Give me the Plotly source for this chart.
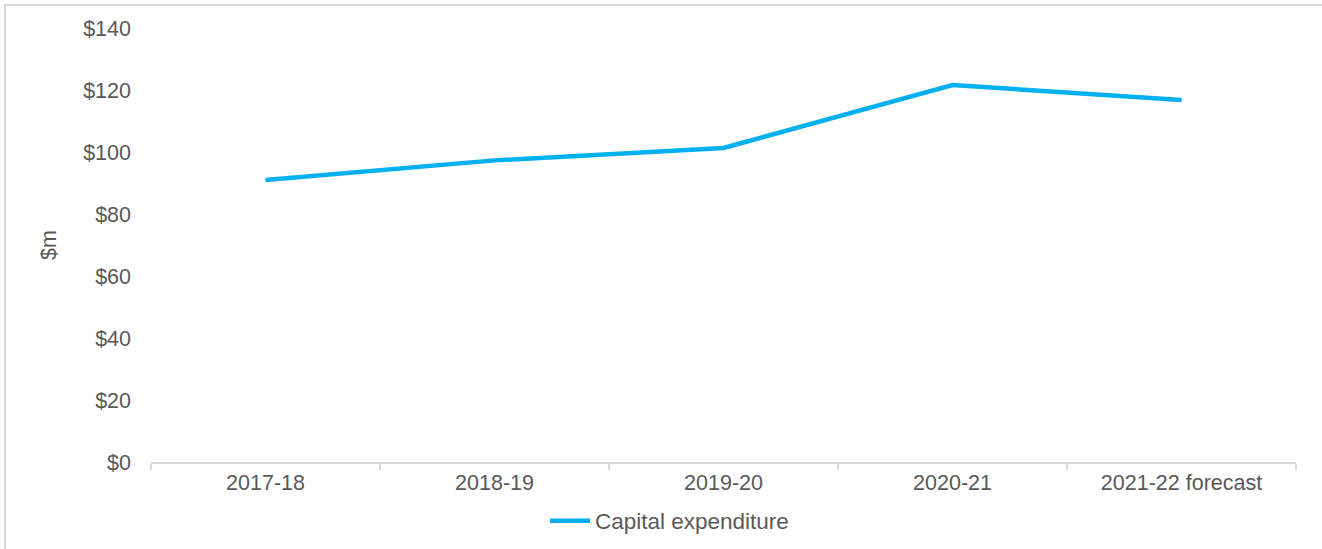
import plotly.graph_objects as go

# Capital expenditure by financial year ($m)
years = ["2017-18", "2018-19", "2019-20", "2020-21", "2021-22 forecast"]
capex = [91.0, 97.3, 101.3, 121.6, 116.8]
y_ticks = [0, 20, 40, 60, 80, 100, 120, 140]
y_tick_labels = ["$0", "$20", "$40", "$60", "$80", "$100", "$120", "$140"]

W, H = 1322, 549
ML, MR, MT, MB = 151, 26, 28, 87
pw, ph = W - ML - MR, H - MT - MB

text_col = "#595959"
font = dict(family="Liberation Sans, Arial, sans-serif", size=21.5, color=text_col)
legend_font = dict(family="Liberation Sans, Arial, sans-serif", size=22.5, color=text_col)

fig = go.Figure()
fig.add_trace(go.Scatter(
    x=years, y=capex, mode="lines", name="Capital expenditure",
    line=dict(color="#00B0F0", width=4.5),
))

# light frame around the whole chart
fig.add_shape(
    type="rect", xref="paper", yref="paper",
    x0=(5 - ML) / pw, x1=(W + 10 - ML) / pw,
    y0=(MT + ph - (H + 10)) / ph, y1=(MT + ph - 5) / ph,
    line=dict(color="#D9D9D9", width=2), fillcolor="rgba(0,0,0,0)", layer="below",
)

fig.update_layout(
    width=W, height=H,
    margin=dict(l=ML, r=MR, t=MT, b=MB, autoexpand=False),
    paper_bgcolor="white", plot_bgcolor="white",
    font=font,
    showlegend=True,
    legend=dict(orientation="h", x=(545 - ML) / pw, xanchor="left",
                y=(MT + ph - 521) / ph, yanchor="middle",
                font=legend_font, itemwidth=40),
    xaxis=dict(
        type="category", range=[-0.5, 4.5],
        showline=True, linecolor="#D9D9D9", linewidth=2,
        ticks="outside", tickson="boundaries", ticklen=6, tickcolor="#D9D9D9", tickwidth=2,
        showgrid=False, tickfont=font,
    ),
    yaxis=dict(
        range=[0, 140], tickvals=y_ticks, ticktext=y_tick_labels,
        showgrid=False, zeroline=False, showline=False,
        ticks="", ticklabelstandoff=19, tickfont=font,
        title=dict(text="$m", font=font, standoff=20),
    ),
)

fig.write_html("out.html")
